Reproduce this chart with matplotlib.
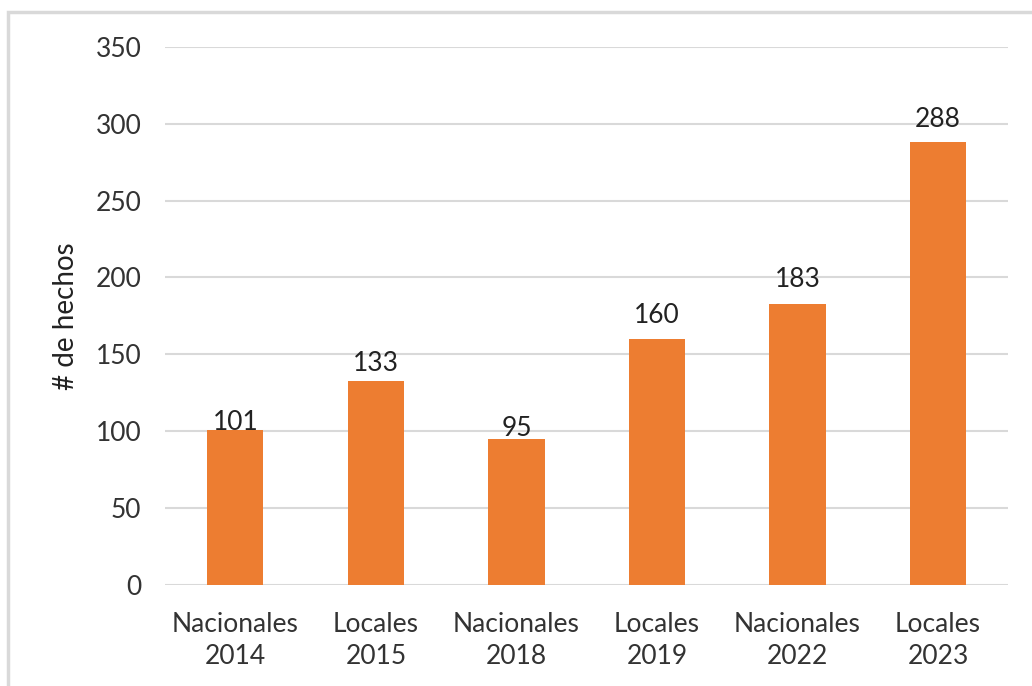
"""Bar chart: hechos por elección."""
import matplotlib
matplotlib.use("Agg")
import matplotlib.pyplot as plt
import matplotlib.patches as mpatches

categorias = ["Nacionales\n2014", "Locales\n2015", "Nacionales\n2018",
              "Locales\n2019", "Nacionales\n2022", "Locales\n2023"]
hechos = [101, 133, 95, 160, 183, 288]
y_ticks = [0, 50, 100, 150, 200, 250, 300, 350]

# label gap above each bar, in points (labels were hand placed in the original)
label_gap = [0, 6.5, 2, 11.5, 12, 11]

plt.rcParams['font.family'] = ['Lato', 'DejaVu Sans']

fig = plt.figure(figsize=(10.32, 6.86), dpi=100)
ax = fig.add_axes([0.160, 0.147, 0.817, 0.785])

x = range(len(categorias))
bars = ax.bar(x, hechos, width=0.40, color='#ED7D31', zorder=3)

for b, v, g in zip(bars, hechos, label_gap):
    ax.annotate(str(v), (b.get_x() + b.get_width() / 2, v),
                xytext=(0, g), textcoords='offset points',
                ha='center', va='baseline', fontsize=19, color='#222222',
                zorder=4)

ax.set_ylim(0, 350)
ax.set_xlim(-0.5, len(categorias) - 0.5)
ax.set_yticks(y_ticks)
ax.set_xticks(list(x))
ax.set_xticklabels(categorias, linespacing=1.35)
ax.tick_params(axis='both', length=0, labelsize=19, colors='#333333')
ax.tick_params(axis='y', pad=17)
ax.tick_params(axis='x', pad=19)
ax.yaxis.grid(True, color='#D9D9D9', linewidth=1.5, zorder=0)
ax.set_axisbelow(True)
for s in ax.spines.values():
    s.set_visible(False)

ax.set_ylabel('# de hechos', fontsize=20, color='#222222', labelpad=12)

# outer chart frame (cropped on right/bottom)
frame = mpatches.Rectangle((8 / 1032, -0.05), 1.2, (686 - 12) / 686 + 0.05,
                           transform=fig.transFigure, fill=False,
                           edgecolor='#D9D9D9', linewidth=2.5)
fig.patches.append(frame)

fig.savefig('out.png', dpi=100)
